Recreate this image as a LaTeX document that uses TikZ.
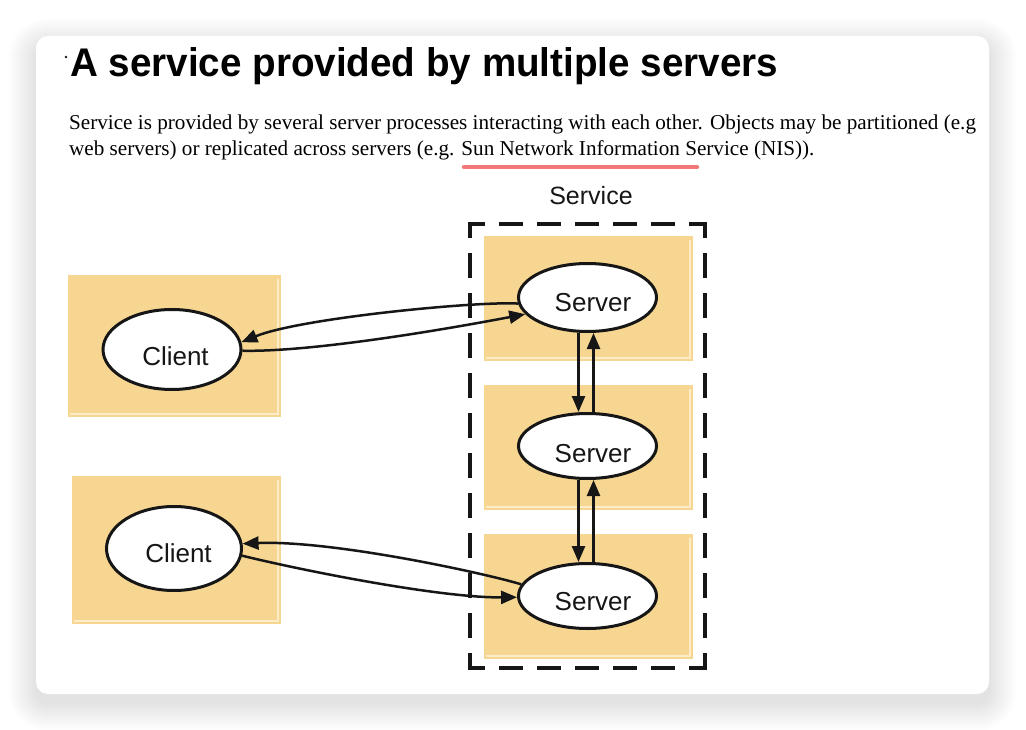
\documentclass[tikz,border=0pt]{standalone}
\usepackage{fontspec}
\setmainfont{Liberation Serif}
\newfontfamily\sansfont{Liberation Sans}
\usetikzlibrary{arrows.meta,shapes.geometric}
\definecolor{boxtan}{RGB}{247,214,146}
\definecolor{boxhi}{RGB}{252,236,200}
\definecolor{redline}{RGB}{243,120,120}
\definecolor{ink}{RGB}{22,22,22}
\begin{document}
\begin{tikzpicture}[x=1pt,y=-1pt,
  tanbox/.style={fill=boxtan},
  hiline/.style={draw=boxhi, line width=1.2pt},
  ell/.style={ellipse, draw=ink, fill=white, line width=3pt, inner sep=0pt, minimum width=138pt},
  lbl/.style={font=\sansfont\fontsize{26}{30}\selectfont, text=ink, anchor=base, inner sep=0pt},
  link/.style={line width=2.5pt, draw=ink, -{Triangle[length=16pt,width=13pt]}},
  hdash/.style={draw=ink, line width=3.5pt, dash pattern=on 24pt off 14pt, dash phase=7pt},
  vdash/.style={draw=ink, line width=3.5pt, dash pattern=on 25pt off 15pt, dash phase=9pt},
]
\useasboundingbox (0,0) rectangle (1026,730);
\fill[white] (0,0) rectangle (1026,730);
% card shadow
\foreach \k in {1,...,28}{
  \pgfmathsetmacro\rr{12+\k}
  \fill[black, opacity=0.0055, rounded corners=\rr pt] (36-\k,46-\k) rectangle (989+\k,703+\k);
}
\fill[white, rounded corners=12pt] (36,36) rectangle (989,694);

% title and text
\fill[ink] (66,57) circle (1.3);
\node[anchor=base west, inner sep=0pt, font=\sansfont\bfseries\fontsize{40}{48}\selectfont, text=black] (title) at (70,77) {\scalebox{0.965}[1]{A service provided by multiple servers}};
\node[anchor=base west, inner sep=0pt, font=\fontsize{21.15}{25}\selectfont, text=black] (line1) at (69,130) {Service is provided by several server processes interacting with each other. Objects may be partitioned (e.g};
\node[anchor=base west, inner sep=0pt, font=\fontsize{21.15}{25}\selectfont, text=black] (line2) at (69,156) {web servers) or replicated across servers (e.g. Sun Network Information Service (NIS)).};
\draw[redline, line width=4.5pt, line cap=round] (464,167) -- (697,167);

% service label
\node[lbl, font=\sansfont\fontsize{25}{30}\selectfont] (svc) at (591,205) {Service};

% client boxes
\fill[tanbox] (68,275) rectangle (281,417);
\draw[hiline] (278,279) -- (278,414) -- (70,414);
\fill[tanbox] (72,476) rectangle (281,624);
\draw[hiline] (278,480) -- (278,621) -- (74,621);

% server boxes
\fill[tanbox] (484,236) rectangle (693,361);
\draw[hiline] (690,240) -- (690,358) -- (486,358);
\fill[tanbox] (484,385) rectangle (693,510);
\draw[hiline] (690,389) -- (690,507) -- (486,507);
\fill[tanbox] (484,534) rectangle (693,659);
\draw[hiline] (690,538) -- (690,656) -- (486,656);

% dashed service boundary
\draw[hdash] (468.25,224) -- (706.75,224);
\draw[hdash] (468.25,668) -- (706.75,668);
\draw[vdash] (470,222.25) -- (470,669.75);
\draw[vdash] (705,222.25) -- (705,669.75);

% ellipses
\node[ell, minimum height=80pt] (c1) at (172,349.5) {};
\node[ell, minimum width=135pt, minimum height=84pt] (c2) at (174,548.5) {};
\node[ell, minimum height=68pt] (s1) at (587.5,297.5) {};
\node[ell, minimum height=65pt] (s2) at (587.5,446) {};
\node[ell, minimum height=65pt] (s3) at (587.5,596) {};

\node[lbl] (s1t) at (593,312) {Server};
\node[lbl] (s2t) at (593,462) {Server};
\node[lbl] (s3t) at (593,610) {Server};
\node[lbl] (c1t) at (175.5,365) {Client};
\node[lbl] (c2t) at (178.5,562) {Client};

% connectors
\draw[link] (s1.185) .. controls (478,301) and (300,318) .. (c1.6);
\draw[link] (c1.-1) .. controls (300,352) and (410,336) .. (s1.195);
\draw[link] (s3.170) .. controls (480,572) and (330,540) .. (c2.4);
\draw[link] (c2.-6) .. controls (300,570) and (440,598) .. (s3.181);

\draw[link] ([xshift=-9pt]s1.south) -- ([xshift=-9pt]s2.north);
\draw[link] ([xshift=6pt]s2.north) -- ([xshift=6pt]s1.south);
\draw[link] ([xshift=-9pt]s2.south) -- ([xshift=-9pt]s3.north);
\draw[link] ([xshift=6pt]s3.north) -- ([xshift=6pt]s2.south);
\end{tikzpicture}
\end{document}
